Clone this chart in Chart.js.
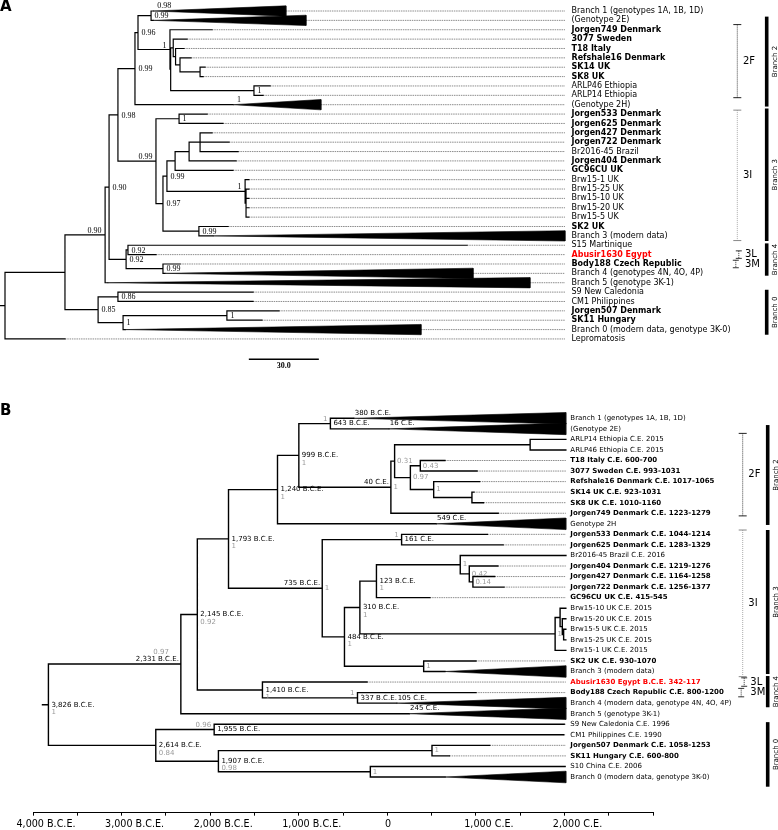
<!DOCTYPE html>
<html>
<head>
<meta charset="utf-8">
<title>Phylogeny of Mycobacterium leprae</title>
<script src="https://cdn.jsdelivr.net/npm/chart.js@4.4.1/dist/chart.umd.min.js"></script>
<style>
  html, body { margin:0; padding:0; background:#fff; }
  #wrap { position:relative; width:778px; height:830px; overflow:hidden; }
  canvas { position:absolute; left:0; }
  #chartA { top:0; }
  #chartB { top:400px; }
</style>
</head>
<body>
<div id="wrap">
  <canvas id="chartA" width="778" height="400" style="width:778px;height:400px"></canvas>
  <canvas id="chartB" width="778" height="430" style="width:778px;height:430px"></canvas>
</div>
<script>
// ================= PANEL A (substitution tree, scale bar = 30.0) =================
const leafNamesA = ["Branch 1 (genotypes 1A, 1B, 1D)","(Genotype 2E)","Jorgen749 Denmark","3077 Sweden","T18 Italy","Refshale16 Denmark","SK14 UK","SK8 UK","ARLP46 Ethiopia","ARLP14 Ethiopia","(Genotype 2H)","Jorgen533 Denmark","Jorgen625 Denmark","Jorgen427 Denmark","Jorgen722 Denmark","Br2016-45 Brazil","Jorgen404 Denmark","GC96CU UK","Brw15-1 UK","Brw15-25 UK","Brw15-10 UK","Brw15-20 UK","Brw15-5 UK","SK2 UK","Branch 3 (modern data)","S15 Martinique","Abusir1630 Egypt","Body188 Czech Republic","Branch 4 (genotypes 4N, 4O, 4P)","Branch 5 (genotype 3K-1)","S9 New Caledonia","CM1 Philippines","Jorgen507 Denmark","SK11 Hungary","Branch 0 (modern data, genotype 3K-0)","Lepromatosis"];
// tip depth of each leaf (for collapsed clades: depth of the deepest member)
const tipDepthA = [120.4,129,88.7,78,76.7,79.7,85.7,84.9,113.6,110.6,135.4,86.6,93.4,88.7,96,99.9,99,97.7,104.5,104.5,104.5,104.5,104.5,95.6,240,198,64.7,75,200.6,225,106.3,106.3,117.4,110.1,178.3,25.7];
// depth of the root of a collapsed clade (null = single genome)
const cladeRootA = [63.5,63.5,null,null,null,null,null,null,null,null,97.7,null,null,null,null,null,null,null,null,null,null,null,null,null,89.1,null,null,null,68.5,44,null,null,null,null,51.5,null];
// internal nodes: [id, depth, children (leaf index or node id), support]
const nodesA = [
  ['n151', 62.6, [0,1], '0.99'],
  ['X', 57.0, ['n151','P'], '0.96'],
  ['T', 83.6, [6,7], null],
  ['S', 75.0, [5,'T'], null],
  ['R', 73.1, [4,'S'], null],
  ['Q', 72.1, [3,'R'], null],
  ['ARLP', 106.7, [8,9], '1'],
  ['P2', 71.0, ['Q','ARLP'], null],
  ['P', 70.7, [2,'P2'], '1'],
  ['Y', 55.7, ['X',10], '0.99'],
  ['n179', 74.6, [11,12], '1'],
  ['n200', 83.6, [13,14,15], null],
  ['n189', 78.9, ['n200',16], null],
  ['n175', 72.9, ['n189',17], null],
  ['BrwB', 103.3, [19,20,21,22], null],
  ['BrwA', 102.9, [18,'BrwB'], '1'],
  ['n167', 69.4, ['n175','BrwA'], '0.99'],
  ['n199', 83.1, [23,24], '0.99'],
  ['V', 67.7, ['n167','n199'], '0.97'],
  ['W', 64.7, ['n179','V'], '0.99'],
  ['Z', 48.4, ['Y','W'], '0.98'],
  ['N5', 52.7, [25,26], '0.92'],
  ['N6', 67.7, [27,28], '0.99'],
  ['N4', 51.9, ['N5','N6'], '0.92'],
  ['N3', 44.6, ['Z','N4'], '0.90'],
  ['N2', 42.9, ['N3',29], '0.90'],
  ['n118', 48.4, [30,31], '0.86'],
  ['n227', 95.1, [32,33], '1'],
  ['n123', 50.6, ['n227',34], '1'],
  ['B0', 39.9, ['n118','n123'], '0.85'],
  ['N1', 25.7, ['N2','B0'], null],
  ['root', 0, ['N1',35], null]
];
const cladeSupportA = [[0,'0.98'],[10,'1']];
const scaleBarLengthA = 30.0;

// ================= PANEL B (dated tree, years; negative = B.C.E.) =================
const leafNamesB = ["Branch 1 (genotypes 1A, 1B, 1D)","(Genotype 2E)","ARLP14 Ethiopia C.E. 2015","ARLP46 Ethiopia C.E. 2015","T18 Italy C.E. 600-700","3077 Sweden C.E. 993-1031","Refshale16 Denmark C.E. 1017-1065","SK14 UK C.E. 923-1031","SK8 UK C.E. 1010-1160","Jorgen749 Denmark C.E. 1223-1279","Genotype 2H","Jorgen533 Denmark C.E. 1044-1214","Jorgen625 Denmark C.E. 1283-1329","Br2016-45 Brazil C.E. 2016","Jorgen404 Denmark C.E. 1219-1276","Jorgen427 Denmark C.E. 1164-1258","Jorgen722 Denmark C.E. 1256-1377","GC96CU UK C.E. 415-545","Brw15-10 UK C.E. 2015","Brw15-20 UK C.E. 2015","Brw15-5 UK C.E. 2015","Brw15-25 UK C.E. 2015","Brw15-1 UK C.E. 2015","SK2 UK C.E. 930-1070","Branch 3 (modern data)","Abusir1630 Egypt B.C.E. 342-117","Body188 Czech Republic C.E. 800-1200","Branch 4 (modern data, genotype 4N, 4O, 4P)","Branch 5 (genotype 3K-1)","S9 New Caledonia C.E. 1996","CM1 Philippines C.E. 1990","Jorgen507 Denmark C.E. 1058-1253","SK11 Hungary C.E. 600-800","S10 China C.E. 2006","Branch 0 (modern data, genotype 3K-0)"];
const tipYearB = [2015,2015,2015,2015,650,1012,1041,977,1085,1251,2015,1129,1306,2016,1247,1211,1316,480,2015,2015,2015,2015,2015,1000,2015,-230,1000,2015,2015,1996,1990,1155,700,2006,2015];
const cladeRootB = [-380,16,null,null,null,null,null,null,null,null,549,null,null,null,null,null,null,null,null,null,null,null,null,null,650,null,null,105,245,null,null,null,null,null,650];
const cladeDatedB = [0,1,10,27,28];
// internal nodes: [id, year, children, posterior]
const nodesB = [
  ['n643', -643, [0,1], '1'],
  ['ARLP', 1612, [2,3], null],
  ['n043', 372, [4,5], '0.43'],
  ['SK', 955, [7,8], null],
  ['n523', 523, [6,'SK'], '1'],
  ['n097', 260, ['n043','n523'], '0.97'],
  ['n031', 82, ['ARLP','n097'], '0.31'],
  ['n40', 40, ['n031',9], '1'],
  ['n999', -999, ['n643','n40'], '1'],
  ['n1240', -1240, ['n999',10], '1'],
  ['n161', 161, [11,12], '1'],
  ['n014', 966, [15,16], '0.14'],
  ['n042', 925, [14,'n014'], '0.42'],
  ['n823', 823, [13,'n042'], '1'],
  ['n123', -123, ['n823',17], '1'],
  ['BrwD', 1990, [20,21], null],
  ['BrwC', 1975, [19,'BrwD'], null],
  ['BrwB', 1950, [18,'BrwC'], null],
  ['BrwA', 1894, ['BrwB',22], '1'],
  ['n310', -310, ['n123','BrwA'], '1'],
  ['nSK2', 410, [23,24], '1'],
  ['n484', -484, ['n310','nSK2'], '1'],
  ['n735', -735, ['n161','n484'], '1'],
  ['n1793', -1793, ['n1240','n735'], '1'],
  ['n337', -337, [26,27], '1'],
  ['n1410', -1410, [25,'n337'], '1'],
  ['n2145', -2145, ['n1793','n1410'], '0.92'],
  ['n2331', -2331, ['n2145',28], '0.97'],
  ['n1955', -1955, [29,30], '0.96'],
  ['n504', 504, [31,32], '1'],
  ['n192', -192, [33,34], '1'],
  ['n1907', -1907, ['n504','n192'], '0.98'],
  ['n2614', -2614, ['n1955','n1907'], '0.84'],
  ['root', -3826, ['n2331','n2614'], '1']
];
const datedNodesB = ['n643','n40','n999','n1240','n161','n123','n310','n484','n735','n1793','n337','n1410','n2145','n2331','n1955','n1907','n2614','root'];
const axisLabelYearsB = [-4000,-3000,-2000,-1000,0,1000,2000];

// ================= Annotation groups (row ranges) =================
const genotypeGroupsA = [['2F',1.45,9.25],['3I',10.58,24.5]];
const genotypeGroupsB = [['2F',1.43,9.25],['3I',10.59,24.49]];
const singleGenotypesA = [['3L',26],['3M',27]];
const singleGenotypesB = [['3L',25],['3M',26]];
const branchBarsA = [['Branch 2',0.6,10.2],['Branch 3',10.4,24.55],['Branch 4',24.8,28.25],['Branch 0',29.75,34.55]];
const branchBarsB = [['Branch 2',0.64,10.11],['Branch 3',10.59,24.24],['Branch 4',24.43,27.39],['Branch 0',28.8,34.92]];

// ================= styles =================
const boldA = [2,3,4,5,6,7,11,12,13,14,16,17,23,26,27,32,33];
const redA = [26];
const boldB = [4,5,6,7,8,9,11,12,14,15,16,17,23,25,26,31,32];
const redB = [25];
const supportLeftA = ['P','BrwA','W','N2'];
const dateLeftB = ['n40','n735','n2331'];
const postPosB = {n643:'a', n161:'a', n337:'a', n1955:'a', n40:'r', n735:'r', n2331:'t'};
const SANS = '"DejaVu Sans", sans-serif';
const SERIF = '"Liberation Serif", "DejaVu Serif", serif';

// ================= helpers =================
function fmtYear(v){
  if (v === 0) return '0';
  return Math.abs(v).toLocaleString('en-US') + (v < 0 ? ' B.C.E.' : ' C.E.');
}
function buildTree(nodes){
  const map = {};
  nodes.forEach(([name, x, kids, sup]) => { map[name] = {name, x, kids, sup}; });
  const yOf = ref => {
    if (typeof ref === 'number') return ref;
    const n = map[ref];
    if (n.y === undefined) { const ys = n.kids.map(yOf); n.y = (ys[0] + ys[ys.length - 1]) / 2; }
    return n.y;
  };
  nodes.forEach(n => yOf(n[0]));
  return map;
}
function treeDatasets(map, tips, apex, stubX, endX, half, lw){
  const black = [], grey = [], tris = [];
  const seg = (arr, x1, y1, x2, y2) => { arr.push({x:x1, y:y1}, {x:x2, y:y2}, {x:x2, y:null}); };
  Object.values(map).forEach(n => {
    const ys = n.kids.map(k => typeof k === 'number' ? k : map[k].y);
    seg(black, n.x, Math.min(...ys), n.x, Math.max(...ys));
    n.kids.forEach(k => {
      if (typeof k === 'number') seg(black, n.x, k, apex[k] != null ? apex[k] : tips[k], k);
      else seg(black, n.x, map[k].y, map[k].x, map[k].y);
    });
  });
  const r = map.root;
  seg(black, stubX, r.y, r.x, r.y);
  tips.forEach((t, i) => {
    if (t < endX - 0.01) seg(grey, t, i, endX, i);
    if (apex[i] != null) tris.push([{x:apex[i], y:i}, {x:t, y:i - half}, {x:t, y:i + half}, {x:apex[i], y:i}]);
  });
  const common = {showLine:true, pointRadius:0, pointHoverRadius:0, clip:false, spanGaps:false, tension:0};
  const ds = [];
  ds.push(Object.assign({data:black, borderColor:'#000', borderWidth:lw, borderCapStyle:'square', borderJoinStyle:'miter'}, common));
  tris.forEach(d => ds.push(Object.assign({data:d, borderColor:'#000', borderWidth:0.6, backgroundColor:'#000', fill:'shape'}, common)));
  ds.push(Object.assign({data:grey, borderColor:'#8c8c8c', borderWidth:1, borderDash:[1.5,0.8], borderCapStyle:'butt'}, common));
  return ds;
}
function drawGroups(ctx, y, groups, singles, bars, bx, lx, barX){
  ctx.save();
  groups.forEach(([name, r1, r2], gi) => {
    const y1 = y.getPixelForValue(r1), y2 = y.getPixelForValue(r2);
    const col = gi === 0 ? '#444' : '#aaa';
    ctx.strokeStyle = col; ctx.lineWidth = 1;
    ctx.setLineDash([1, 1]);
    ctx.beginPath(); ctx.moveTo(bx, y1); ctx.lineTo(bx, y2); ctx.stroke();
    ctx.setLineDash([]);
    ctx.strokeStyle = gi === 0 ? '#222' : '#888';
    ctx.beginPath(); ctx.moveTo(bx - 4, y1); ctx.lineTo(bx + 4, y1); ctx.moveTo(bx - 4, y2); ctx.lineTo(bx + 4, y2); ctx.stroke();
    ctx.fillStyle = '#000'; ctx.font = '10px ' + SANS; ctx.textAlign = 'left'; ctx.textBaseline = 'middle';
    ctx.fillText(name, lx, (y1 + y2) / 2);
  });
  singles.forEach(([name, r], si) => {
    const y1 = y.getPixelForValue(r - 0.4), y2 = y.getPixelForValue(r + 0.4);
    const xx = si === 0 ? bx + 1.5 : bx - 1.5;
    ctx.strokeStyle = '#333'; ctx.lineWidth = 1;
    ctx.setLineDash([1, 1]);
    ctx.beginPath(); ctx.moveTo(xx, y1); ctx.lineTo(xx, y2); ctx.stroke();
    ctx.setLineDash([]);
    ctx.beginPath(); ctx.moveTo(xx - 3, y1); ctx.lineTo(xx + 3, y1); ctx.moveTo(xx - 3, y2); ctx.lineTo(xx + 3, y2); ctx.stroke();
    ctx.fillStyle = '#000'; ctx.font = '10px ' + SANS; ctx.textAlign = 'left'; ctx.textBaseline = 'middle';
    ctx.fillText(name, lx + 2, y.getPixelForValue(r));
  });
  bars.forEach(([name, r1, r2]) => {
    const y1 = y.getPixelForValue(r1), y2 = y.getPixelForValue(r2);
    ctx.strokeStyle = '#000'; ctx.lineWidth = 3.6;
    ctx.beginPath(); ctx.moveTo(barX, y1); ctx.lineTo(barX, y2); ctx.stroke();
    ctx.save();
    ctx.translate(barX + 8.5, (y1 + y2) / 2); ctx.rotate(-Math.PI / 2);
    ctx.fillStyle = '#000'; ctx.font = '7px ' + SANS; ctx.textAlign = 'center'; ctx.textBaseline = 'middle';
    ctx.fillText(name, 0, 0);
    ctx.restore();
  });
  ctx.restore();
}

// ================= PANEL A chart =================
const treeA = buildTree(nodesA);
const END_A = 240;                // tips are aligned at this depth
const ROW0_A = 11, ROWH_A = 9.37, PX_PER_UNIT_A = 70 / 30;
const yMinA = -1, yMaxA = 37;
const dsA = treeDatasets(treeA, tipDepthA, cladeRootA, -2.1, END_A, 0.55, 1.2);
const barStartA = 104.5, barRowA = 37.17;
dsA.unshift({data:[{x:barStartA, y:barRowA}, {x:barStartA + scaleBarLengthA, y:barRowA}], borderColor:'#000', borderWidth:1.4,
  showLine:true, pointRadius:0, clip:false, tension:0});

const textA = {
  id:'textA',
  afterDatasetsDraw(chart){
    const {ctx, scales:{x, y}} = chart;
    ctx.save();
    const lx = x.getPixelForValue(END_A) + 6.5;
    ctx.textAlign = 'left'; ctx.textBaseline = 'middle';
    leafNamesA.forEach((name, i) => {
      ctx.font = (boldA.includes(i) ? 'bold ' : '') + '8px ' + SANS;
      ctx.fillStyle = redA.includes(i) ? '#ff0000' : '#000';
      ctx.fillText(name, lx, y.getPixelForValue(i));
    });
    ctx.font = '8px ' + SERIF; ctx.fillStyle = '#000';
    nodesA.forEach(n => {
      if (!n[3]) return;
      const nd = treeA[n[0]];
      const nx = x.getPixelForValue(nd.x), ny = y.getPixelForValue(nd.y);
      if (supportLeftA.includes(n[0])) { ctx.textAlign = 'right'; ctx.textBaseline = 'alphabetic'; ctx.fillText(n[3], nx - 3.5, ny - 2); }
      else { ctx.textAlign = 'left'; ctx.textBaseline = 'middle'; ctx.fillText(n[3], nx + 3.5, ny + 0.5); }
    });
    cladeSupportA.forEach(([i, s]) => {
      ctx.textAlign = 'left'; ctx.textBaseline = 'alphabetic';
      ctx.fillText(s, x.getPixelForValue(cladeRootA[i]) + 4, y.getPixelForValue(i) - 3);
    });
    // scale bar label
    ctx.font = 'bold 8px ' + SERIF; ctx.textAlign = 'center'; ctx.textBaseline = 'middle';
    ctx.fillText(scaleBarLengthA.toFixed(1), x.getPixelForValue(barStartA + scaleBarLengthA / 2), y.getPixelForValue(barRowA) + 6.5);
    // panel letter
    ctx.font = 'bold 15px ' + SANS; ctx.textAlign = 'left'; ctx.textBaseline = 'top';
    ctx.fillText('A', 0, 0);
    ctx.restore();
    drawGroups(ctx, y, genotypeGroupsA, singleGenotypesA, branchBarsA, 737.3, 743, 766.7);
  }
};

new Chart(document.getElementById('chartA'), {
  type:'scatter',
  data:{datasets:dsA},
  options:{
    responsive:false, animation:false, devicePixelRatio:1, events:[],
    layout:{padding:{left:5, right:778 - (5 + END_A * PX_PER_UNIT_A), top:ROW0_A + yMinA * ROWH_A, bottom:400 - (ROW0_A + yMaxA * ROWH_A)}},
    plugins:{legend:{display:false}, tooltip:{enabled:false}},
    scales:{
      x:{type:'linear', display:false, min:0, max:END_A},
      y:{type:'linear', display:false, min:yMinA, max:yMaxA, reverse:true}
    }
  },
  plugins:[textA]
});

// ================= PANEL B chart =================
const treeB = buildTree(nodesB);
const END_B = 2015;
const X_MIN_B = -4000, X_MAX_B = 3000;
const ROW0_B = 18.3, ROWH_B = 10.55;
const yMinB = -1, yMaxB = 37.38;
const AXIS_H_B = 430 - (ROW0_B + yMaxB * ROWH_B);
const dsB = treeDatasets(treeB, tipYearB, cladeRootB, -3893, END_B, 0.55, 1.4);

const textB = {
  id:'textB',
  afterDatasetsDraw(chart){
    const {ctx, scales:{x, y}} = chart;
    ctx.save();
    const lx = x.getPixelForValue(END_B) + 4.5;
    ctx.textAlign = 'left'; ctx.textBaseline = 'middle';
    leafNamesB.forEach((name, i) => {
      ctx.font = (boldB.includes(i) ? 'bold ' : '') + '7px ' + SANS;
      ctx.fillStyle = redB.includes(i) ? '#ff0000' : '#000';
      ctx.fillText(name, lx, y.getPixelForValue(i));
    });
    ctx.font = '7px ' + SANS;
    nodesB.forEach(n => {
      const id = n[0], nd = treeB[id];
      const nx = x.getPixelForValue(nd.x), ny = y.getPixelForValue(nd.y);
      const dated = datedNodesB.includes(id);
      if (dated) {
        ctx.fillStyle = '#000';
        if (dateLeftB.includes(id)) { ctx.textAlign = 'right'; ctx.fillText(fmtYear(nd.x), nx - 2, ny - 5); }
        else { ctx.textAlign = 'left'; ctx.fillText(fmtYear(nd.x), nx + 3, ny); }
      }
      if (n[3]) {
        ctx.fillStyle = '#9a9a9a';
        const pos = postPosB[id] || (dated ? 'b' : 'r');
        if (pos === 'b') { ctx.textAlign = 'left'; ctx.fillText(n[3], nx + 3, ny + 7.5); }
        else if (pos === 'r') { ctx.textAlign = 'left'; ctx.fillText(n[3], nx + 2.5, ny); }
        else if (pos === 'a') { ctx.textAlign = 'right'; ctx.fillText(n[3], nx - 3, ny - 4.5); }
        else { ctx.textAlign = 'right'; ctx.fillText(n[3], nx - 12, ny - 12); }
      }
    });
    ctx.fillStyle = '#000'; ctx.textAlign = 'left';
    cladeDatedB.forEach(i => {
      ctx.fillText(fmtYear(cladeRootB[i]), x.getPixelForValue(cladeRootB[i]) + 1, y.getPixelForValue(i) - 5.3);
    });
    ctx.font = 'bold 15px ' + SANS; ctx.textAlign = 'left'; ctx.textBaseline = 'top';
    ctx.fillText('B', 0, 4);
    ctx.restore();
    drawGroups(ctx, y, genotypeGroupsB, singleGenotypesB, branchBarsB, 742.7, 748.3, 767.7);
  }
};

new Chart(document.getElementById('chartB'), {
  type:'scatter',
  data:{datasets:dsB},
  options:{
    responsive:false, animation:false, devicePixelRatio:1, events:[],
    layout:{padding:{left:32.2, right:778 - 653.1, top:ROW0_B + yMinB * ROWH_B, bottom:0}},
    plugins:{legend:{display:false}, tooltip:{enabled:false}},
    scales:{
      x:{
        type:'linear', position:'bottom', min:X_MIN_B, max:X_MAX_B,
        border:{display:true, color:'#000', width:1},
        grid:{display:true, drawOnChartArea:false, drawTicks:true, tickLength:3, color:'#000', tickColor:'#000', lineWidth:1},
        ticks:{stepSize:500, autoSkip:false, maxRotation:0, minRotation:0, padding:3.5, labelOffset:13, color:'#000',
          font:{family:'DejaVu Sans', size:9.6},
          callback:v => axisLabelYearsB.includes(v) ? (v === 0 ? '0\u2007\u2007\u2007\u2007' : fmtYear(v)) : ''},
        afterFit:s => { s.height = AXIS_H_B; }
      },
      y:{type:'linear', display:false, min:yMinB, max:yMaxB, reverse:true}
    }
  },
  plugins:[textB]
});
</script>
</body>
</html>
